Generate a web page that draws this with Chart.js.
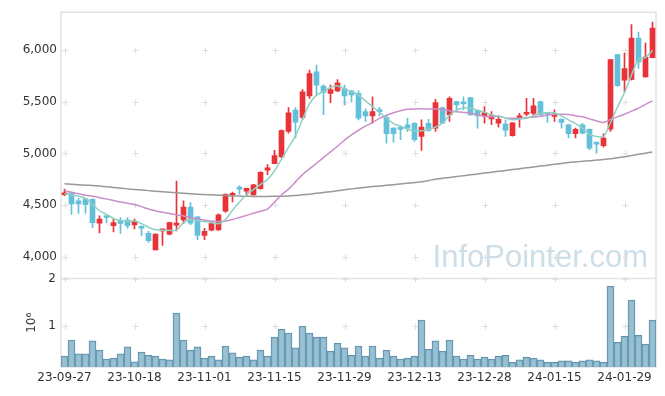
<!DOCTYPE html>
<html>
<head>
<meta charset="utf-8">
<script src="https://cdn.jsdelivr.net/npm/chart.js@4/dist/chart.umd.min.js"></script>
<style>
  html, body { margin: 0; padding: 0; background: #fff; }
  canvas { display: block; }
</style>
</head>
<body>
<canvas id="stockChart" width="665" height="396"></canvas>
<script>
// Trading days (YY-MM-DD)
const dates = [
  '23-09-27','23-10-04','23-10-05','23-10-06','23-10-10','23-10-11','23-10-12','23-10-13','23-10-16','23-10-17',
  '23-10-18','23-10-19','23-10-20','23-10-23','23-10-24','23-10-25','23-10-26','23-10-27','23-10-30','23-10-31',
  '23-11-01','23-11-02','23-11-03','23-11-06','23-11-07','23-11-08','23-11-09','23-11-10','23-11-13','23-11-14',
  '23-11-15','23-11-16','23-11-17','23-11-20','23-11-21','23-11-22','23-11-23','23-11-24','23-11-27','23-11-28',
  '23-11-29','23-11-30','23-12-01','23-12-04','23-12-05','23-12-06','23-12-07','23-12-08','23-12-11','23-12-12',
  '23-12-13','23-12-14','23-12-15','23-12-18','23-12-19','23-12-20','23-12-21','23-12-22','23-12-26','23-12-27',
  '23-12-28','24-01-02','24-01-03','24-01-04','24-01-05','24-01-08','24-01-09','24-01-10','24-01-11','24-01-12',
  '24-01-15','24-01-16','24-01-17','24-01-18','24-01-19','24-01-22','24-01-23','24-01-24','24-01-25','24-01-26',
  '24-01-29','24-01-30','24-01-31','24-02-01','24-02-02'
];

// Daily prices
const opens = [
  4600,4620,4540,4560,4555,4325,4385,4300,4330,4355,
  4308,4290,4225,4065,4250,4218,4305,4355,4480,4385,
  4205,4257,4260,4440,4595,4660,4635,4598,4660,4838,
  4902,4966,5213,5420,5350,5557,5790,5653,5582,5605,
  5630,5608,5582,5405,5365,5422,5351,5245,5240,5278,
  5293,5165,5293,5245,5444,5374,5502,5493,5541,5415,
  5364,5335,5293,5284,5172,5341,5380,5389,5502,5385,
  5358,5332,5278,5191,5278,5235,5095,5075,5235,5958,
  5711,5717,6118,5743,5929
];
const highs = [
  4655,4625,4565,4565,4560,4395,4385,4365,4378,4378,
  4365,4295,4245,4222,4262,4335,4732,4540,4525,4390,
  4275,4340,4415,4610,4625,4690,4665,4700,4825,4893,
  5030,5230,5445,5444,5620,5807,5856,5665,5663,5717,
  5663,5612,5608,5432,5550,5447,5365,5250,5268,5340,
  5300,5326,5332,5525,5450,5550,5505,5550,5545,5420,
  5454,5406,5364,5326,5300,5390,5534,5534,5508,5390,
  5422,5335,5282,5245,5290,5240,5095,5191,5912,5960,
  5974,6250,6176,6070,6273
];
const lows = [
  4590,4410,4420,4420,4280,4230,4330,4240,4225,4275,
  4270,4200,4138,4065,4110,4210,4250,4320,4310,4165,
  4165,4250,4255,4430,4530,4605,4588,4595,4655,4795,
  4900,4960,5197,5150,5330,5534,5567,5375,5493,5598,
  5470,5500,5326,5310,5293,5365,5100,5110,5133,5213,
  5117,5030,5213,5213,5288,5310,5406,5422,5370,5245,
  5293,5278,5255,5165,5168,5255,5364,5358,5370,5300,
  5310,5245,5150,5150,5190,5037,5004,5062,5213,5650,
  5598,5710,5823,5740,5925
];
const closes = [
  4610,4510,4510,4505,4330,4365,4380,4330,4322,4300,
  4345,4276,4155,4220,4258,4330,4315,4480,4325,4205,
  4245,4320,4405,4605,4610,4655,4662,4695,4818,4860,
  4980,5223,5395,5303,5598,5775,5663,5590,5620,5685,
  5557,5567,5342,5365,5405,5405,5191,5192,5233,5245,
  5133,5255,5223,5493,5293,5534,5470,5482,5374,5364,
  5396,5367,5332,5226,5297,5364,5396,5461,5374,5380,
  5383,5300,5191,5235,5197,5052,5090,5149,5909,5657,
  5823,6118,5887,5935,6215
];

// Moving averages
const ma5 = [
  4610,4600,4585,4565,4505,4445,4410,4370,4350,4345,
  4345,4320,4285,4260,4255,4255,4258,4330,4360,4350,
  4340,4330,4320,4360,4450,4530,4600,4650,4700,4748,
  4830,4945,5060,5170,5330,5480,5565,5600,5640,5655,
  5625,5600,5565,5510,5454,5400,5345,5290,5265,5235,
  5220,5220,5235,5255,5293,5370,5420,5440,5438,5420,
  5400,5375,5360,5345,5326,5335,5342,5365,5389,5395,
  5394,5365,5325,5290,5245,5185,5165,5165,5300,5450,
  5590,5760,5910,5930,6000
];
const ma20 = [
  4640,4625,4610,4595,4585,4572,4560,4545,4530,4518,
  4505,4485,4462,4445,4430,4418,4405,4395,4380,4365,
  4355,4345,4340,4345,4360,4380,4400,4420,4440,4460,
  4530,4600,4655,4725,4795,4850,4905,4960,5015,5070,
  5130,5180,5225,5265,5300,5340,5370,5395,5415,5428,
  5432,5433,5432,5430,5425,5415,5405,5398,5390,5375,
  5360,5355,5360,5345,5342,5342,5345,5352,5360,5372,
  5380,5380,5378,5365,5355,5335,5315,5300,5330,5355,
  5380,5410,5440,5475,5510
];
const ma120 = [
  4706,4702,4698,4693,4689,4684,4678,4671,4664,4657,
  4651,4646,4640,4635,4629,4624,4619,4614,4609,4605,
  4602,4599,4596,4592,4589,4587,4585,4584,4584,4584,
  4585,4586,4588,4593,4599,4606,4614,4622,4630,4638,
  4648,4657,4665,4672,4679,4685,4691,4698,4705,4711,
  4718,4726,4738,4750,4760,4768,4776,4785,4793,4801,
  4810,4818,4827,4835,4844,4852,4861,4869,4878,4886,
  4895,4903,4912,4918,4924,4930,4936,4942,4950,4958,
  4968,4980,4992,5003,5014
];

// Daily volume (shares)
const volumes = [
  340000,690000,390000,390000,670000,470000,280000,300000,390000,540000,
  220000,430000,360000,340000,280000,260000,1270000,690000,470000,540000,
  300000,340000,260000,560000,410000,320000,340000,260000,470000,340000,
  750000,920000,840000,520000,990000,840000,750000,750000,450000,620000,
  520000,360000,560000,340000,560000,300000,470000,340000,280000,300000,
  340000,1120000,490000,670000,450000,690000,340000,280000,360000,280000,
  320000,280000,340000,360000,210000,260000,320000,300000,260000,210000,
  210000,240000,240000,210000,240000,260000,240000,210000,1850000,640000,
  770000,1550000,790000,600000,1120000
];

const priceTicks = [4000, 4500, 5000, 5500, 6000];
const volTicks = [1000000, 2000000];

const upColor = '#ea3338';
const downColor = '#64c0d9';
const candleColors = opens.map((o, i) => closes[i] >= o ? upColor : downColor);

// watermark, grid crosses and panel frames
const framePlugin = {
  id: 'frame',
  beforeDatasetsDraw(chart) {
    const { ctx, chartArea: a, scales } = chart;
    ctx.save();

    ctx.font = '31px "Liberation Sans"';
    ctx.fillStyle = 'rgba(184,208,222,0.7)';
    ctx.textAlign = 'right';
    ctx.textBaseline = 'alphabetic';
    ctx.fillText('InfoPointer.com', a.right - 8, scales.y.bottom - 12);

    ctx.strokeStyle = '#dedede';
    ctx.lineWidth = 1;
    const panels = [[scales.y, priceTicks], [scales.vol, volTicks]];
    for (let i = 0; i < dates.length; i += 10) {
      const x = Math.round(scales.x.getPixelForValue(i)) + 0.5;
      panels.forEach(([s, ticks]) => {
        ticks.forEach(t => {
          const y = Math.round(s.getPixelForValue(t)) + 0.5;
          ctx.beginPath();
          ctx.moveTo(x - 3, y); ctx.lineTo(x + 3, y);
          ctx.moveTo(x, y - 3); ctx.lineTo(x, y + 3);
          ctx.stroke();
        });
      });
    }

    ctx.strokeStyle = '#e2e2e2';
    ctx.lineWidth = 1.5;
    ctx.strokeRect(a.left, a.top, a.right - a.left, a.bottom - a.top);
    ctx.beginPath();
    ctx.moveTo(a.left, scales.y.bottom);
    ctx.lineTo(a.right, scales.y.bottom);
    ctx.stroke();
    ctx.restore();
  }
};

Chart.defaults.font.family = 'DejaVu Sans';
Chart.defaults.font.size = 12;
Chart.defaults.color = '#333';

const tickFont = { family: 'DejaVu Sans', size: 12 };

new Chart(document.getElementById('stockChart'), {
  type: 'bar',
  data: {
    labels: dates,
    datasets: [
      { type: 'line', label: 'MA5', data: ma5, yAxisID: 'y', borderColor: '#8fd0c3', borderWidth: 1.5,
        pointRadius: 0, tension: 0.3, order: 0 },
      { type: 'line', label: 'MA20', data: ma20, yAxisID: 'y', borderColor: '#cb8ec8', borderWidth: 1.5,
        pointRadius: 0, tension: 0.3, order: 0 },
      { type: 'line', label: 'MA120', data: ma120, yAxisID: 'y', borderColor: '#999999', borderWidth: 1.5,
        pointRadius: 0, tension: 0.3, order: 0 },
      { label: 'Range', data: lows.map((l, i) => [l, highs[i]]), yAxisID: 'y',
        backgroundColor: candleColors, barThickness: 1, grouped: false, order: 2 },
      { label: 'Body', data: opens.map((o, i) => [o, closes[i]]), yAxisID: 'y',
        backgroundColor: candleColors, barThickness: 5, minBarLength: 2, grouped: false, order: 1 },
      { label: 'Volume', data: volumes, yAxisID: 'vol',
        backgroundColor: 'rgba(135,181,202,0.85)', borderColor: '#5f91aa', borderWidth: 1,
        barPercentage: 1, categoryPercentage: 1, grouped: false, order: 3 }
    ]
  },
  options: {
    responsive: false,
    animation: false,
    devicePixelRatio: 1,
    layout: { padding: { top: 10, right: 9, bottom: 0, left: 0 } },
    plugins: { legend: { display: false }, tooltip: { enabled: false } },
    scales: {
      x: {
        offset: true,
        grid: { display: false, drawTicks: false },
        border: { display: false },
        ticks: {
          autoSkip: false, maxRotation: 0, padding: 4, color: '#333', font: tickFont,
          callback: (v, i) => (i % 10 === 0 ? dates[i] : '')
        },
        afterFit: s => { s.height = 29; }
      },
      vol: {
        position: 'left', stack: 'panels', stackWeight: 89,
        min: 107000, max: 2015000,
        grid: { display: false, drawTicks: false },
        border: { display: false },
        ticks: { padding: 5, color: '#333', font: tickFont, callback: v => v / 1000000 },
        title: { display: true, text: '10⁶', color: '#333', font: tickFont, padding: { top: 25, bottom: 0 } },
        afterBuildTicks: s => { s.ticks = volTicks.map(v => ({ value: v })); },
        afterFit: s => { s.width = 61; }
      },
      y: {
        position: 'left', stack: 'panels', stackWeight: 268,
        min: 3788, max: 6369,
        grid: { display: false, drawTicks: false },
        border: { display: false },
        ticks: { padding: 4, color: '#333', font: tickFont },
        afterBuildTicks: s => { s.ticks = priceTicks.map(v => ({ value: v })); },
        afterFit: s => { s.width = 61; }
      }
    }
  },
  plugins: [framePlugin]
});
</script>
</body>
</html>
